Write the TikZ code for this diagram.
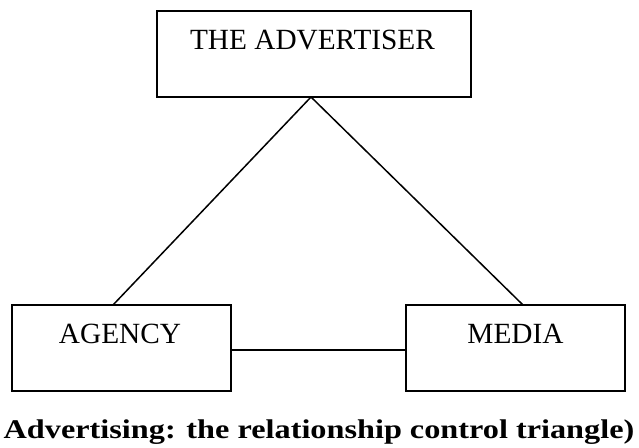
\documentclass[tikz,border=0pt]{standalone}
\usepackage{fontspec}
\setmainfont{Liberation Serif}
\begin{document}
\begin{tikzpicture}[x=1pt,y=-1pt,
  lbl/.style={font=\fontsize{29.3}{30}\selectfont,inner sep=0pt,anchor=base},
  boxframe/.style={draw=black,line width=1.6pt},
  link/.style={draw=black,line width=1.5pt}]
\useasboundingbox[fill=white] (0,0) rectangle (639,447);
% boxes
\draw[boxframe] (157,11) rectangle (471,97);
\node[inner sep=0pt,minimum width=314pt,minimum height=86pt] (adv) at (314,54) {};
\node[lbl] (advt) at (312.5,49) {THE ADVERTISER};
\draw[boxframe] (12,305) rectangle (231,391);
\node[inner sep=0pt,minimum width=219pt,minimum height=86pt] (ag) at (121.5,348) {};
\node[lbl] (agt) at (120,343) {AGENCY};
\draw[boxframe] (406,305) rectangle (625,391);
\node[inner sep=0pt,minimum width=219pt,minimum height=86pt] (me) at (515.5,348) {};
\node[lbl] (met) at (515.5,343) {MEDIA};
% connectors
\coordinate (apex) at (311,97);
\coordinate (agtop) at (113,305);
\coordinate (metop) at (523,305);
\draw[link] (apex) -- (agtop);
\draw[link] (apex) -- (metop);
\draw[link] (ag.east |- 0,350) -- (me.west |- 0,350);
% caption
\node[font=\fontsize{27}{29}\selectfont\bfseries,inner sep=0pt,anchor=base] (cap) at (319,438) {\scalebox{1.195}[1]{Advertising: the relationship control triangle)}};
\end{tikzpicture}
\end{document}
